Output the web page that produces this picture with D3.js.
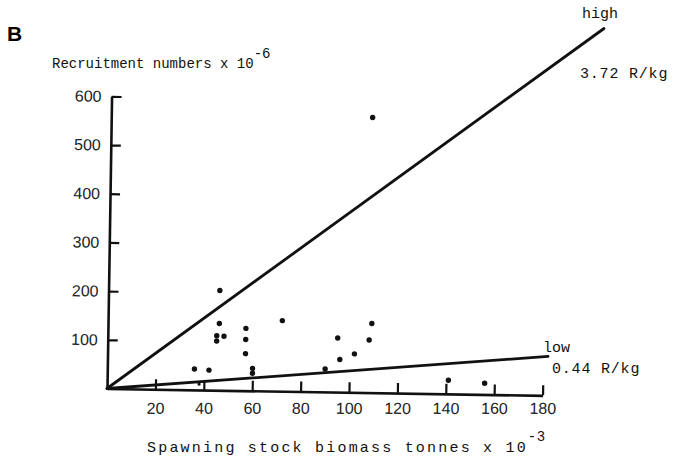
<!DOCTYPE html>
<html>
<head>
<meta charset="utf-8">
<script src="https://cdn.jsdelivr.net/npm/d3@7"></script>
<style>
  html, body { margin: 0; padding: 0; background: #fff; }
  svg { display: block; }
  .mono { font-family: "Liberation Mono", "DejaVu Sans Mono", monospace; fill: #111; }
  .tick text { font-family: "Liberation Sans", Arial, sans-serif; font-size: 16px; fill: #222; }
</style>
</head>
<body>
<svg id="chart" width="674" height="462"></svg>
<script>
// Spawning stock biomass (tonnes x 10^-3) and recruitment (numbers x 10^-6)
const stockBiomass = [46, 46, 45, 48, 45, 57, 57, 57, 72, 36, 42, 60, 60, 109, 95, 108, 102, 96, 90, 141, 156, 108, 38];
const recruitment  = [205, 137, 112, 111, 101, 128, 105, 76, 145, 43, 41, 46, 36, 142, 111, 108, 79, 67, 47, 28, 23, 565, 12];

// Replacement lines (recruits per kg of spawning stock)
const replacementRates = [3.72, 0.44];
const replacementNames = ["high", "low"];
const replacementEndX = [203, 182];

const xTicks = [20, 40, 60, 80, 100, 120, 140, 160, 180];
const yTicks = [100, 200, 300, 400, 500, 600];

const svg = d3.select("#chart");

const x = d3.scaleLinear().domain([0, 180]).range([0, 435.6]);
const y = d3.scaleLinear().domain([0, 600]).range([0, -292.2]);

// the frame sits slightly skewed on the page
const tilt = 0.9;
const plot = svg.append("g").attr("transform", `translate(107,388.5) rotate(${tilt})`);

// axes: ticks point into the plot area
const yAxis = d3.axisLeft(y).tickValues(yTicks).tickSizeInner(-10).tickSizeOuter(0).tickPadding(10);
const xAxis = d3.axisBottom(x).tickValues(xTicks).tickSizeInner(-10).tickSizeOuter(0).tickPadding(14);

const gy = plot.append("g").call(yAxis);
const gx = plot.append("g").call(xAxis);
[gy, gx].forEach(g => {
  g.select(".domain").attr("stroke", "#111").attr("stroke-width", 2.6);
  g.selectAll(".tick line").attr("stroke", "#111").attr("stroke-width", 2.2);
});
// x tick labels stay on one level line
const tiltSin = Math.sin(tilt * Math.PI / 180);
gx.selectAll(".tick text").attr("transform", d => `translate(0,${-x(d) * tiltSin})`);

// replacement lines from the origin
plot.selectAll("line.rep")
  .data(replacementRates)
  .join("line")
  .attr("class", "rep")
  .attr("x1", x(0)).attr("y1", y(0))
  .attr("x2", (d, i) => x(replacementEndX[i]))
  .attr("y2", (d, i) => y(d * replacementEndX[i]))
  .attr("stroke", "#111")
  .attr("stroke-width", 2.8)
  .attr("stroke-linecap", "round");

// observations
plot.selectAll("circle.obs")
  .data(stockBiomass)
  .join("circle")
  .attr("class", "obs")
  .attr("cx", d => x(d))
  .attr("cy", (d, i) => y(recruitment[i]))
  .attr("r", (d, i) => i === stockBiomass.length - 1 ? 1.6 : 2.7)
  .attr("fill", "#111");

// panel letter
svg.append("text")
  .attr("x", 7).attr("y", 41)
  .attr("font-family", "Liberation Sans, Arial, sans-serif")
  .attr("font-weight", "bold")
  .attr("font-size", 21)
  .text("B");

// axis titles
const yTitle = svg.append("text").attr("class", "mono")
  .attr("x", 52).attr("y", 68).attr("font-size", 14);
yTitle.append("tspan").text("Recruitment numbers x 10");
yTitle.append("tspan").attr("dy", -10).attr("font-size", 14).text("-6");

const xTitle = svg.append("text").attr("class", "mono")
  .attr("x", 147).attr("y", 452).attr("font-size", 15).attr("letter-spacing", 2.2);
xTitle.append("tspan").text("Spawning stock biomass tonnes x 10");
xTitle.append("tspan").attr("dy", -11).attr("letter-spacing", 0.5).attr("font-size", 14).text("-3");

// line annotations
const ann = [
  { name: replacementNames[0], rate: replacementRates[0], nx: 582, ny: 18, rx: 580, ry: 78 },
  { name: replacementNames[1], rate: replacementRates[1], nx: 543, ny: 352, rx: 552, ry: 373 }
];
ann.forEach(a => {
  svg.append("text").attr("class", "mono").attr("font-size", 15)
    .attr("x", a.nx).attr("y", a.ny).text(a.name);
  svg.append("text").attr("class", "mono").attr("font-size", 15).attr("letter-spacing", 0.8)
    .attr("x", a.rx).attr("y", a.ry).text(a.rate.toFixed(2) + " R/kg");
});
</script>
</body>
</html>
